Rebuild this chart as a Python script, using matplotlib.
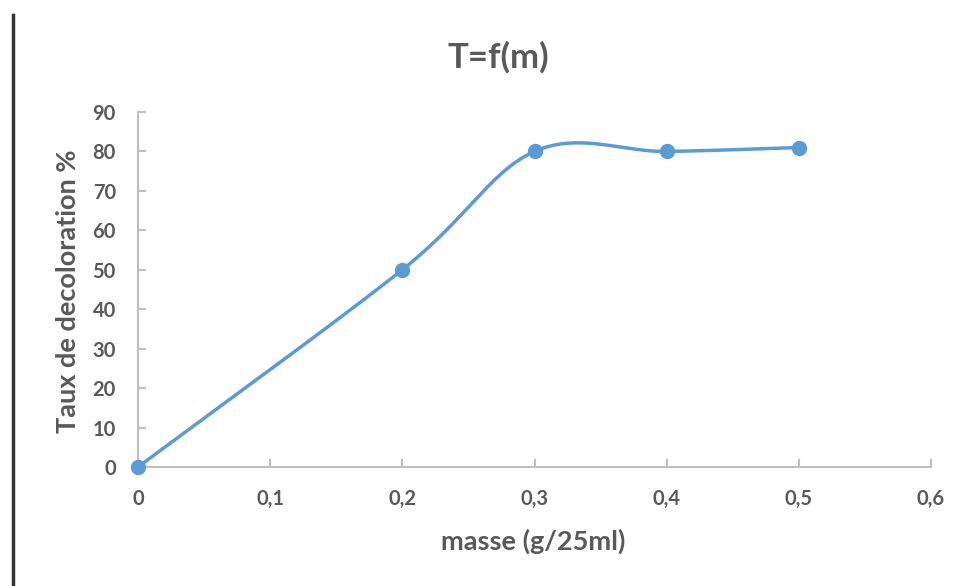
import numpy as np
import matplotlib
matplotlib.use("Agg")
import matplotlib.pyplot as plt
from matplotlib.lines import Line2D

# data
masse = [0.0, 0.2, 0.3, 0.4, 0.5]
taux = [0.0, 50.0, 80.0, 80.0, 81.0]
x_ticks = [0, 0.1, 0.2, 0.3, 0.4, 0.5, 0.6]
x_labels = ["0", "0,1", "0,2", "0,3", "0,4", "0,5", "0,6"]
y_ticks = list(range(0, 100, 10))

XLIM = (0, 0.6)
YLIM = (0, 90)
BLUE = "#5B9BD5"
GREY = "#595959"
AXIS = "#BFBFBF"


def excel_smooth(xs, ys, n=60):
    """Catmull-Rom style smoothing (like Excel's smoothed line), done in
    axis-fraction space so the shape does not depend on the units."""
    sx = (XLIM[1] - XLIM[0])
    sy = (YLIM[1] - YLIM[0])
    p = np.column_stack([np.asarray(xs) / sx, np.asarray(ys) / sy])
    out = []
    for i in range(len(p) - 1):
        p0 = p[i - 1] if i > 0 else p[i]
        p1, p2 = p[i], p[i + 1]
        p3 = p[i + 2] if i + 2 < len(p) else p[i + 1]
        c1 = p1 + (p2 - p0) / 6
        c2 = p2 - (p3 - p1) / 6
        t = np.linspace(0, 1, n)[:, None]
        seg = ((1 - t) ** 3) * p1 + 3 * ((1 - t) ** 2) * t * c1 \
            + 3 * (1 - t) * t ** 2 * c2 + t ** 3 * p2
        out.append(seg if i == 0 else seg[1:])
    out = np.vstack(out)
    return out[:, 0] * sx, out[:, 1] * sy


plt.rcParams["font.family"] = ["Lato", "DejaVu Sans"]

fig = plt.figure(figsize=(9.63, 5.86), dpi=100)
ax = fig.add_axes([138 / 963, 1 - 467 / 586, (931 - 138) / 963, (467 - 112) / 586])

sx, sy = excel_smooth(masse, taux)
ax.plot(sx, sy, color=BLUE, lw=2.5, solid_capstyle="round", clip_on=False, zorder=3)
ax.plot(masse, taux, "o", color=BLUE, ms=10, clip_on=False, zorder=4)

ax.set_xlim(*XLIM)
ax.set_ylim(*YLIM)
ax.set_xticks(x_ticks)
ax.set_xticklabels(x_labels)
ax.set_yticks(y_ticks)

for s in ["top", "right"]:
    ax.spines[s].set_visible(False)
for s in ["left", "bottom"]:
    ax.spines[s].set_color(AXIS)
    ax.spines[s].set_linewidth(1.5)

ax.tick_params(direction="in", length=6, width=1.5, color=AXIS,
               labelcolor=GREY, labelsize=14.5)
ax.tick_params(axis="y", pad=16)
ax.tick_params(axis="x", pad=16)
for lab in ax.get_xticklabels() + ax.get_yticklabels():
    lab.set_fontweight("bold")

ax.set_xlabel("masse (g/25ml)", fontsize=19.5, fontweight="bold", color=GREY)
ax.set_ylabel("Taux de decoloration %", fontsize=19.5, fontweight="bold", color=GREY)
ax.xaxis.set_label_coords(0.498, -(541 - 467) / 355)
ax.xaxis.label.set_verticalalignment("center")
ax.yaxis.set_label_coords(-(138 - 68) / 793, 0.496)
ax.yaxis.label.set_verticalalignment("center")
fig.text(498 / 963, 1 - 57 / 586, "T=f(m)", fontsize=25, fontweight="bold",
         color=GREY, ha="center", va="center")

# dark border line on the left edge of the screenshot
fig.add_artist(Line2D([13 / 963, 13 / 963], [0, 1 - 15 / 586],
                      transform=fig.transFigure, color="#333333", lw=2.5))

fig.savefig("out.png", dpi=100)
